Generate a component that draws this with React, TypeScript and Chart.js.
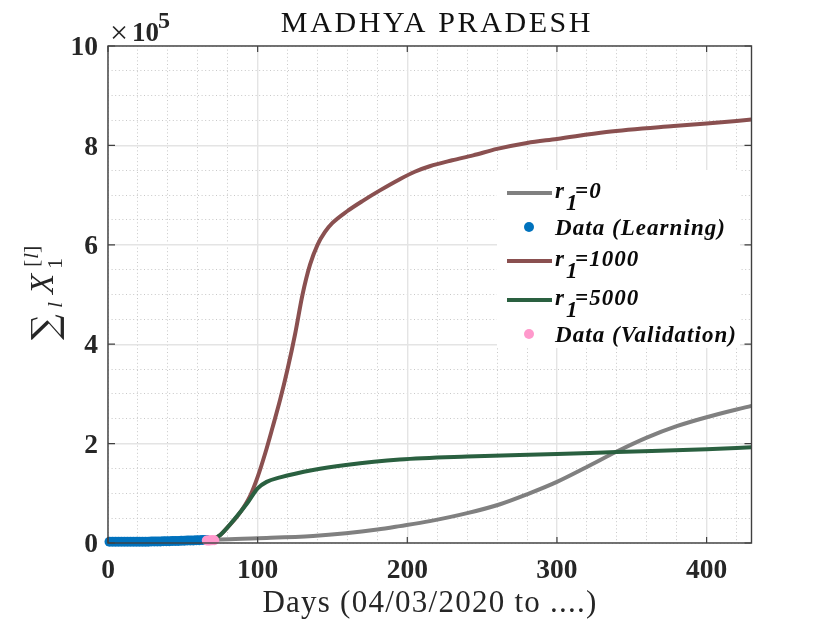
import React, { useEffect, useRef } from "react";
import { Chart, registerables } from "chart.js";

Chart.register(...registerables);

const TITLE = "MADHYA PRADESH";
const X_LABEL = "Days (04/03/2020 to ....)";
const X_MAX = 430;
const Y_MAX = 10; // values are in units of 10^5

const grayDays = [70, 75, 100, 137, 159, 180, 195, 215, 240, 262, 280, 300, 320, 340, 360, 380, 400, 430];
const grayValues = [0.06, 0.07, 0.094, 0.14, 0.195, 0.27, 0.34, 0.44, 0.6, 0.78, 0.98, 1.23, 1.53, 1.84, 2.12, 2.35, 2.53, 2.76];

const brownDays = [70, 75, 80, 87, 95, 100, 105, 110, 115, 120, 125, 130, 135, 140, 145, 150, 160, 170, 182, 195, 205, 215, 230, 244, 260, 280, 300, 333, 378, 400, 430];
const brownValues = [0.07, 0.16, 0.32, 0.56, 0.95, 1.33, 1.8, 2.33, 2.88, 3.5, 4.2, 5.0, 5.6, 6.0, 6.26, 6.44, 6.68, 6.88, 7.1, 7.32, 7.47, 7.58, 7.7, 7.8, 7.93, 8.05, 8.13, 8.27, 8.39, 8.44, 8.52];

const greenDays = [70, 75, 84, 93, 100, 106, 115, 137, 159, 195, 240, 300, 340, 400, 430];
const greenValues = [0.07, 0.16, 0.46, 0.8, 1.1, 1.23, 1.32, 1.47, 1.57, 1.68, 1.74, 1.79, 1.83, 1.885, 1.925];

const learningDays = [1, 3, 5, 7, 9, 11, 13, 15, 17, 19, 21, 23, 25, 27, 29, 31, 33, 35, 37, 39, 41, 43, 45, 47, 49, 51, 53, 55, 57, 59, 61, 63, 65, 66];
const learningValues = [0.025, 0.025, 0.025, 0.025, 0.025, 0.025, 0.025, 0.025, 0.025, 0.025, 0.025, 0.025, 0.025, 0.025, 0.03, 0.03, 0.03, 0.03, 0.035, 0.035, 0.035, 0.04, 0.04, 0.04, 0.045, 0.045, 0.05, 0.05, 0.05, 0.055, 0.055, 0.06, 0.06, 0.06];

const validationDays = [66, 67, 68, 69, 70, 71];
const validationValues = [0.05, 0.05, 0.05, 0.055, 0.055, 0.055];

const X_TICK_STEP = 100;
const X_MINOR_STEP = 20;
const Y_TICK_STEP = 2;
const Y_MINOR_STEP = 0.5;

const GRAY = "#808080";
const BROWN = "#8a5050";
const GREEN = "#2a6040";
const BLUE = "#0072bd";
const PINK = "#ff99cc";
const INK = "#262626";
const SERIF = "'Liberation Serif', serif";

const pts = (xs: number[], ys: number[]) => xs.map((x, i) => ({ x, y: ys[i] }));

const lineSet = (label: string, xs: number[], ys: number[], color: string, order: number) => ({
  label,
  data: pts(xs, ys),
  borderColor: color,
  backgroundColor: color,
  borderWidth: 4,
  pointRadius: 0,
  cubicInterpolationMode: "monotone" as const,
  order,
});

const dotSet = (label: string, xs: number[], ys: number[], color: string, order: number) => ({
  label,
  data: pts(xs, ys),
  borderColor: color,
  backgroundColor: color,
  showLine: false,
  pointRadius: 5,
  pointBorderWidth: 0,
  clip: false as const,
  order,
});

const framePlugin = {
  id: "frame",
  afterDatasetsDraw(chart: any) {
    const { ctx, chartArea: a, scales } = chart;
    ctx.save();
    ctx.strokeStyle = "#404040";
    ctx.lineWidth = 1.4;
    ctx.strokeRect(a.left, a.top, a.right - a.left, a.bottom - a.top);
    ctx.lineWidth = 1.2;
    ctx.beginPath();
    for (const t of scales.x.ticks) {
      const p = scales.x.getPixelForValue(t.value);
      ctx.moveTo(p, a.bottom);
      ctx.lineTo(p, a.bottom - 6);
      ctx.moveTo(p, a.top);
      ctx.lineTo(p, a.top + 6);
    }
    for (const t of scales.y.ticks) {
      const p = scales.y.getPixelForValue(t.value);
      ctx.moveTo(a.left, p);
      ctx.lineTo(a.left + 7, p);
      ctx.moveTo(a.right, p);
      ctx.lineTo(a.right - 7, p);
    }
    ctx.stroke();
    ctx.restore();
  },
};

const legendRows = [193, 227, 261, 300, 334];

const legendPlugin = {
  id: "mathLegend",
  afterDraw(chart: any) {
    const { ctx } = chart;
    ctx.save();
    ctx.fillStyle = "#ffffff";
    ctx.fillRect(497, 170, 243, 178);
    ctx.textBaseline = "alphabetic";
    ctx.textAlign = "left";
    chart.data.datasets.forEach((ds: any, i: number) => {
      const cy = legendRows[i];
      if (ds.showLine === false) {
        ctx.fillStyle = ds.backgroundColor;
        ctx.beginPath();
        ctx.arc(529, cy, 5, 0, Math.PI * 2);
        ctx.fill();
      } else {
        ctx.strokeStyle = ds.borderColor;
        ctx.lineWidth = 4;
        ctx.beginPath();
        ctx.moveTo(507, cy);
        ctx.lineTo(552, cy);
        ctx.stroke();
      }
      ctx.fillStyle = "#0a0a0a";
      ctx.font = `italic bold 23px ${SERIF}`;
      ctx.letterSpacing = "1.05px";
      const m = /^r_1(.*)$/.exec(ds.label);
      if (m) {
        const base = cy + 5;
        ctx.fillText("r", 555, base);
        ctx.fillText("1", 566, base + 12);
        ctx.fillText(m[1], 575, base);
      } else {
        ctx.fillText(ds.label, 555, cy + 8);
      }
    });
    ctx.restore();
  },
};

const mathPlugin = {
  id: "mathText",
  afterDraw(chart: any) {
    const { ctx } = chart;
    ctx.save();
    ctx.textBaseline = "alphabetic";
    ctx.textAlign = "center";
    ctx.fillStyle = "#111111";
    ctx.font = `30px ${SERIF}`;
    ctx.letterSpacing = "2.6px";
    ctx.fillText(TITLE, 437, 32);
    ctx.fillStyle = INK;
    ctx.font = `31px ${SERIF}`;
    ctx.letterSpacing = "1.25px";
    ctx.fillText(X_LABEL, 430, 612);
    ctx.letterSpacing = "0px";
    ctx.textAlign = "left";
    // axis exponent
    ctx.font = `32px ${SERIF}`;
    ctx.fillText("×", 110, 43);
    ctx.font = `bold 27px ${SERIF}`;
    ctx.fillText("10", 132, 41);
    ctx.font = `bold 24px ${SERIF}`;
    ctx.fillText("5", 158, 28);
    // y axis label
    ctx.translate(53, 0);
    ctx.rotate(-Math.PI / 2);
    ctx.font = `36px 'DejaVu Serif', serif`;
    ctx.fillText("∑", -340, 4);
    ctx.font = `italic 22px ${SERIF}`;
    ctx.fillText("l", -308, 9);
    ctx.font = `italic 33px ${SERIF}`;
    ctx.fillText("X", -294, 0);
    ctx.font = `22px ${SERIF}`;
    ctx.fillText("1", -269, 9);
    ctx.fillText("[", -267, -15);
    ctx.font = `italic 22px ${SERIF}`;
    ctx.fillText("l", -259, -15);
    ctx.font = `22px ${SERIF}`;
    ctx.fillText("]", -253, -15);
    ctx.restore();
  },
};

export default function App() {
  const ref = useRef<HTMLCanvasElement | null>(null);

  useEffect(() => {
    if (!ref.current) return;
    const chart = new Chart(ref.current, {
      type: "line",
      data: {
        datasets: [
          lineSet("r_1=0", grayDays, grayValues, GRAY, 5),
          dotSet("Data (Learning)", learningDays, learningValues, BLUE, 2),
          lineSet("r_1=1000", brownDays, brownValues, BROWN, 4),
          lineSet("r_1=5000", greenDays, greenValues, GREEN, 3),
          dotSet("Data (Validation)", validationDays, validationValues, PINK, 1),
        ],
      } as any,
      options: {
        animation: false,
        responsive: false,
        devicePixelRatio: 1,
        layout: { padding: { left: 8, right: 78.5, top: 46, bottom: 0 } },
        plugins: {
          legend: { display: false },
          tooltip: { enabled: false },
          title: { display: false, text: TITLE },
        },
        scales: {
          xMinor: {
            type: "linear",
            position: "bottom",
            min: 0,
            max: X_MAX,
            border: { display: false, dash: [1, 2.6] },
            grid: { color: "#c8c8c8", lineWidth: 1, drawTicks: false },
            ticks: { display: false, stepSize: X_MINOR_STEP, includeBounds: false },
            afterFit: (s: any) => { s.height = 0; },
          },
          yMinor: {
            type: "linear",
            position: "left",
            min: 0,
            max: Y_MAX,
            border: { display: false, dash: [1, 2.6] },
            grid: { color: "#c8c8c8", lineWidth: 1, drawTicks: false },
            ticks: { display: false, stepSize: Y_MINOR_STEP, includeBounds: false },
            afterFit: (s: any) => { s.width = 0; },
          },
          x: {
            type: "linear",
            position: "bottom",
            min: 0,
            max: X_MAX,
            border: { display: false },
            grid: { color: "#e4e4e4", lineWidth: 1.4, drawTicks: false },
            ticks: {
              stepSize: X_TICK_STEP,
              includeBounds: false,
              maxRotation: 0,
              autoSkip: false,
              padding: 11,
              color: INK,
              font: { family: SERIF, size: 27.5, weight: "bold" },
            },
            afterFit: (s: any) => { s.height = 80; },
          },
          y: {
            type: "linear",
            position: "left",
            min: 0,
            max: Y_MAX,
            border: { display: false },
            grid: { color: "#e4e4e4", lineWidth: 1.4, drawTicks: false },
            ticks: {
              stepSize: Y_TICK_STEP,
              padding: 10,
              labelOffset: 2,
              color: INK,
              font: { family: SERIF, size: 27.5, weight: "bold" },
            },
            afterFit: (s: any) => { s.width = 100; },
          },
        },
      } as any,
      plugins: [framePlugin, mathPlugin, legendPlugin],
    });
    return () => chart.destroy();
  }, []);

  return (
    <div style={{ position: "fixed", left: 0, top: 0, width: 830, height: 623, background: "#fff" }}>
      <canvas ref={ref} width={830} height={623} style={{ display: "block" }} />
    </div>
  );
}
